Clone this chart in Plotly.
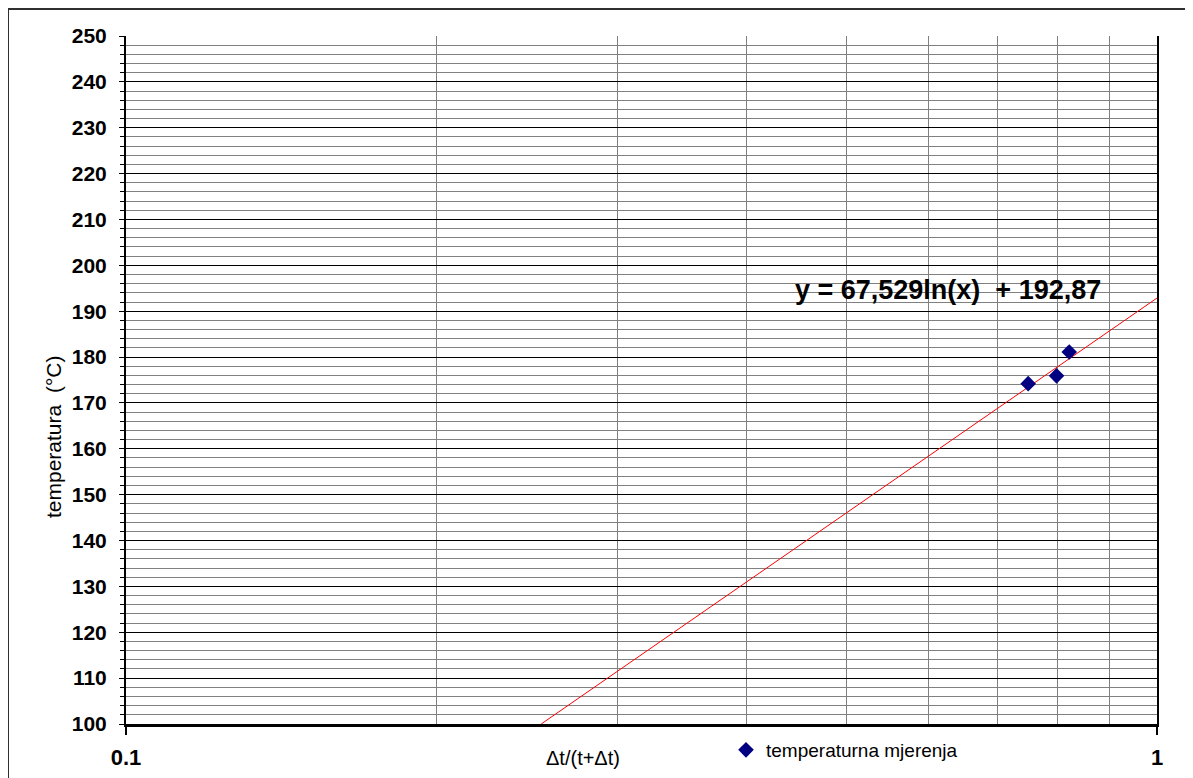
import numpy as np
import plotly.graph_objects as go

# Data
x_meas = [0.750, 0.799, 0.822]
y_meas = [174.2, 175.9, 181.1]
series_name = "temperaturna mjerenja"

# Logarithmic trendline y = a ln(x) + b (as printed on the chart)
trend_a = 67.529
trend_b = 192.87
trend_label = "y = 67,529ln(x)  + 192,87"

x_ticks = [0.1, 1]
x_ticktext = ["0.1", "1"]
x_minor = [0.2, 0.3, 0.4, 0.5, 0.6, 0.7, 0.8, 0.9]
y_range = [100, 250]

# Trendline is straight on a log axis: endpoints where it enters the plot and x=1
x_trend = [float(np.exp((y_range[0] - trend_b) / trend_a)), 1.0]
y_trend = [trend_a * np.log(v) + trend_b for v in x_trend]

FONT = "Liberation Sans, Arial, sans-serif"

# screen-pixel helpers (plot area spans x 126..1157, y 36..724 on screen)
def px_x(p):
    return (p - 126) / 1031

def px_y(p):
    return (724 - p) / 688

fig = go.Figure()
fig.add_trace(go.Scatter(
    x=x_trend, y=y_trend, mode="lines",
    line=dict(color="#ff0000", width=1),
    showlegend=False, hoverinfo="skip",
))
fig.add_trace(go.Scatter(
    x=x_meas, y=y_meas, mode="markers", name=series_name,
    marker=dict(symbol="diamond", size=12, color="#000080"),
))

fig.update_layout(
    width=1193, height=778,
    margin=dict(l=118, r=44, t=28, b=62),
    paper_bgcolor="white", plot_bgcolor="white",
    font=dict(family=FONT, color="black"),
    showlegend=True,
    legend=dict(
        orientation="h", x=px_x(726), xanchor="left", y=px_y(750), yanchor="middle",
        font=dict(family=FONT, size=19, color="black"),
        bgcolor="rgba(0,0,0,0)",
    ),
    xaxis=dict(
        type="log", range=[-1, 0],
        tickvals=x_ticks, ticktext=x_ticktext,
        tickfont=dict(family=FONT, size=22, color="black", weight="bold"),
        ticks="outside", ticklen=8, tickwidth=2, tickcolor="black",
        ticklabelstandoff=4,
        showgrid=False,
        showline=True, linecolor="black", linewidth=3,
        minor=dict(tickvals=x_minor, showgrid=True, gridcolor="#808080",
                   gridwidth=1, ticks=""),
        zeroline=False,
    ),
    yaxis=dict(
        range=y_range, dtick=10, tick0=100,
        tickfont=dict(family=FONT, size=21, color="black", weight="bold"),
        ticks="outside", ticklen=5, tickwidth=1, tickcolor="black",
        ticklabelstandoff=8,
        showgrid=True, gridcolor="black", gridwidth=1,
        showline=True, linecolor="black", linewidth=2, mirror=True,
        minor=dict(dtick=2, showgrid=True, gridcolor="#808080", gridwidth=1,
                   ticks="outside", ticklen=4, tickcolor="black"),
        zeroline=False,
    ),
    annotations=[
        dict(text=trend_label, xref="paper", yref="paper",
             x=px_x(793), y=px_y(290),
             xanchor="left", yanchor="middle", showarrow=False,
             font=dict(family=FONT, size=27, color="black", weight="bold")),
        dict(text="Δt/(t+Δt)", xref="paper", yref="paper",
             x=px_x(583), y=px_y(758),
             xanchor="center", yanchor="middle", showarrow=False,
             font=dict(family=FONT, size=20, color="black")),
        dict(text="temperatura  (°C)", xref="paper", yref="paper",
             x=px_x(53), y=px_y(437), textangle=-90,
             xanchor="center", yanchor="middle", showarrow=False,
             font=dict(family=FONT, size=21, color="black")),
    ],
    shapes=[
        dict(type="line", xref="paper", yref="paper",
             x0=px_x(8), x1=px_x(1200), y0=px_y(9), y1=px_y(9),
             line=dict(color="#303030", width=2)),
        dict(type="line", xref="paper", yref="paper",
             x0=px_x(8), x1=px_x(8), y0=px_y(9), y1=px_y(790),
             line=dict(color="#303030", width=2)),
    ],
)

fig.write_html("out.html")
